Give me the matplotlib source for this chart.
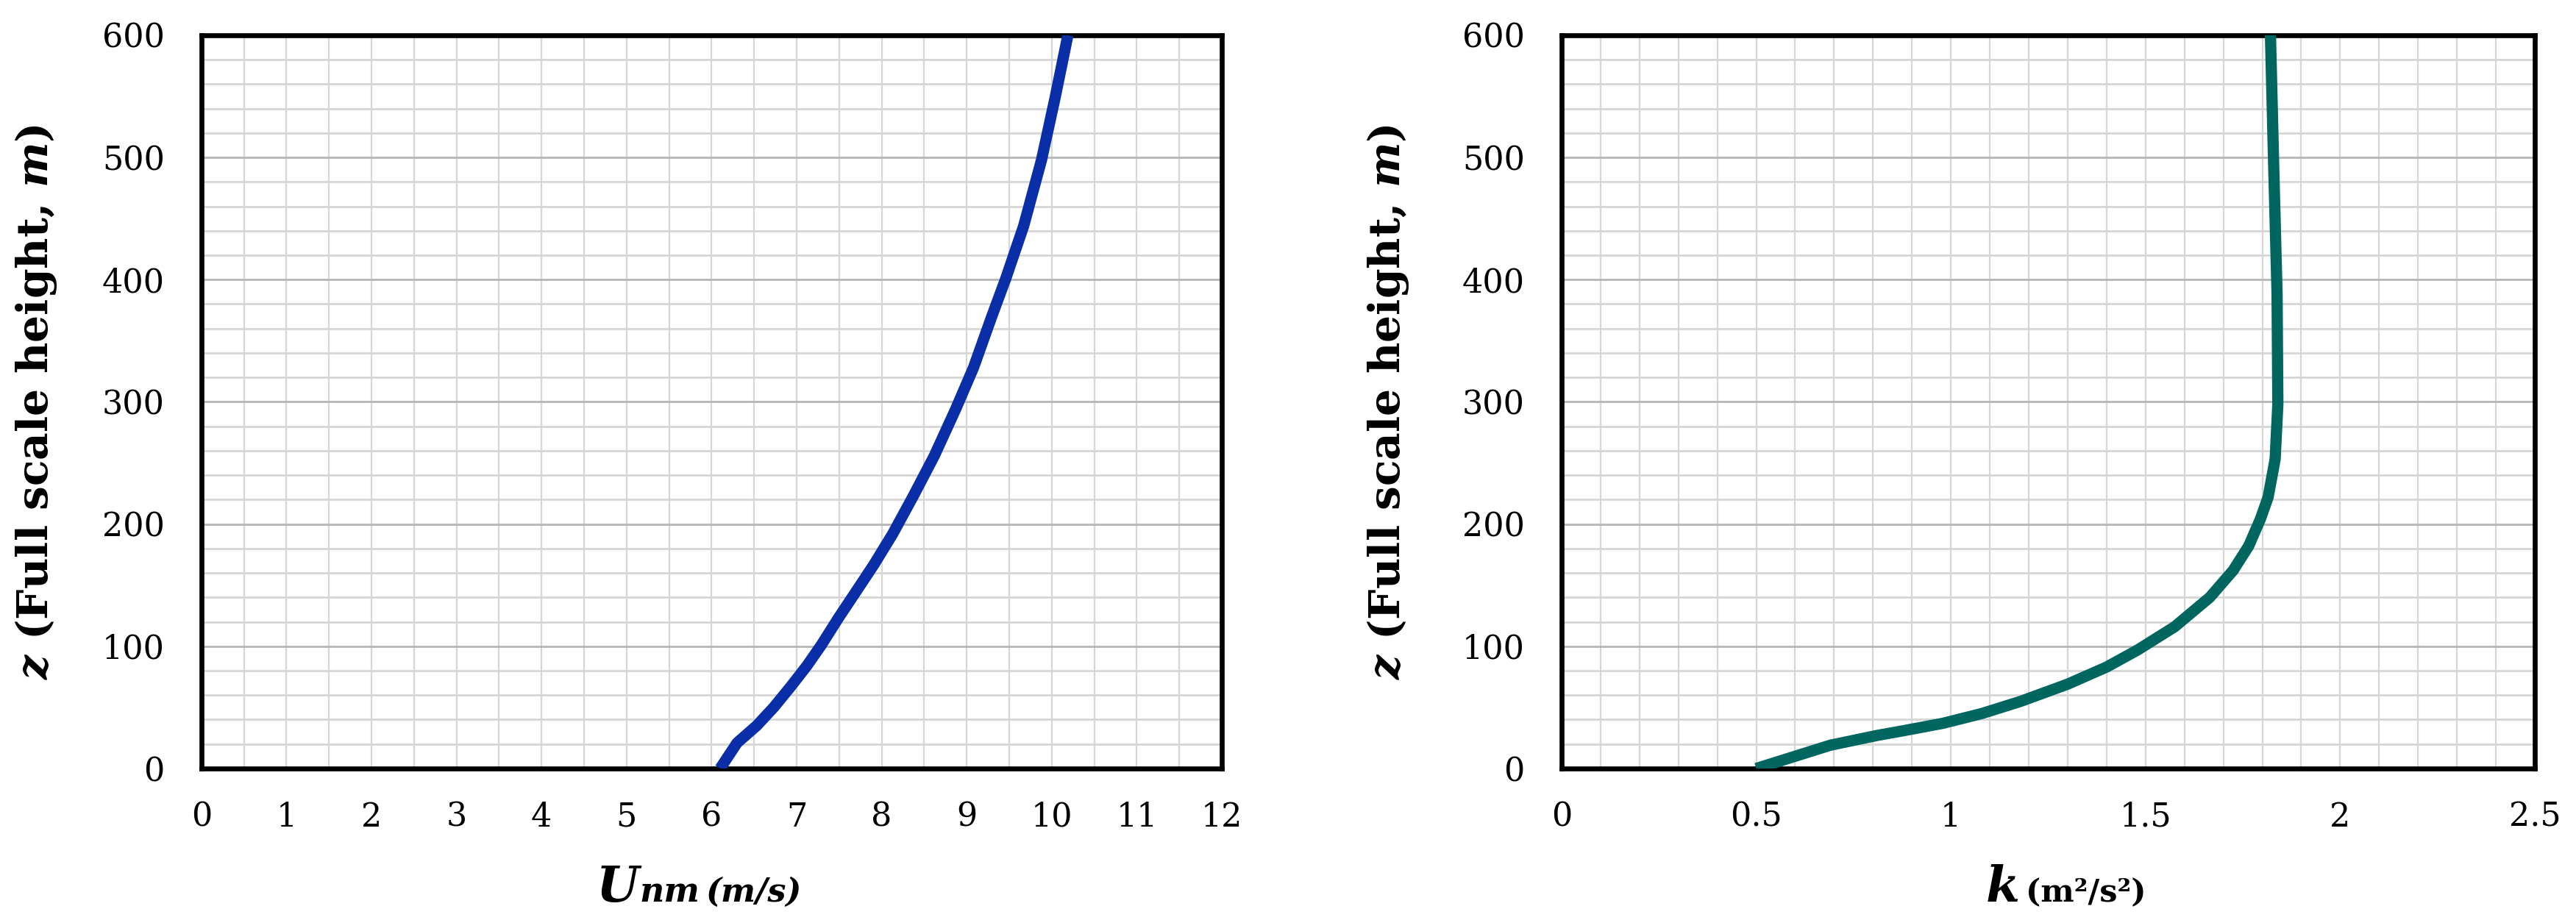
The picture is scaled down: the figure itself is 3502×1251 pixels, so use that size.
import matplotlib
matplotlib.use("Agg")
from matplotlib import pyplot as plt
from matplotlib.ticker import MultipleLocator

# mean wind speed profile (left panel)
z_u = [0, 21, 35, 50, 67, 84, 101, 123, 146, 167, 192, 224, 256, 294,
       328, 369, 401, 444, 498, 549, 600]
u_nm = [6.10, 6.30, 6.53, 6.73, 6.93, 7.12, 7.29, 7.49, 7.71, 7.91, 8.13,
        8.38, 8.62, 8.87, 9.08, 9.29, 9.46, 9.67, 9.88, 10.04, 10.19]

# turbulent kinetic energy profile (right panel)
z_k = [0, 9, 14, 19, 23, 27, 31, 37, 45, 55, 69, 83, 97, 116, 140, 162, 182,
       204, 222, 253, 298, 388, 497, 600]
k_vals = [0.50, 0.59, 0.64, 0.69, 0.75, 0.81, 0.88, 0.98, 1.08, 1.18, 1.30,
          1.40, 1.48, 1.575, 1.665, 1.725, 1.765, 1.795, 1.815, 1.833, 1.840,
          1.838, 1.829, 1.821]

u_ticks = list(range(0, 13))
k_ticks = [0, 0.5, 1, 1.5, 2, 2.5]
k_tick_labels = ["0", "0.5", "1", "1.5", "2", "2.5"]
z_ticks = list(range(0, 601, 100))

plt.rcParams['font.family'] = ['DejaVu Serif']
plt.rcParams['mathtext.fontset'] = 'custom'
plt.rcParams['mathtext.rm'] = 'DejaVu Serif:bold'
plt.rcParams['mathtext.bf'] = 'DejaVu Serif:bold'
plt.rcParams['mathtext.bfit'] = 'DejaVu Serif:italic:bold'

W, H = 3502, 1251
fig = plt.figure(figsize=(W / 100, H / 100), dpi=100)


def style_axes(ax, xmax, xminor):
    ax.set_xlim(0, xmax)
    ax.set_ylim(0, 600)
    ax.xaxis.set_minor_locator(MultipleLocator(xminor))
    ax.set_yticks(z_ticks)
    ax.yaxis.set_minor_locator(MultipleLocator(20))
    ax.grid(which='both', axis='x', color='#d6d6d6', lw=1.6)
    ax.grid(which='major', axis='y', color='#b5b5b5', lw=2.0)
    ax.grid(which='minor', axis='y', color='#d6d6d6', lw=2.0)
    ax.set_axisbelow(True)
    ax.tick_params(which='both', length=0, labelsize=32)
    ax.tick_params(axis='x', pad=32)
    ax.tick_params(axis='y', pad=36)
    for s in ax.spines.values():
        s.set_linewidth(4.8)
        s.set_color('black')
    ax.set_ylabel(r"$\mathbfit{z}$ (Full scale height, $\mathbfit{m}$)",
                  fontsize=42, fontweight='bold', va='center')


ax1 = fig.add_axes([0.0782, 0.1647, 0.3961, 0.797])
ax1.set_xticks(u_ticks)
style_axes(ax1, 12, 0.5)
ax1.yaxis.set_label_coords(-0.162, 0.5)
ax1.plot(u_nm, z_u, color='#0a2ea8', lw=11, solid_capstyle='butt',
         solid_joinstyle='round', zorder=3)

ax2 = fig.add_axes([0.6062, 0.1647, 0.3778, 0.797])
ax2.set_xticks(k_ticks, k_tick_labels)
style_axes(ax2, 2.5, 0.1)
ax2.yaxis.set_label_coords(-0.178, 0.5)
ax2.plot(k_vals, z_k, color='#00665f', lw=11, solid_capstyle='butt',
         solid_joinstyle='round', zorder=3)


# composite x labels built from pieces of different size
def label_parts(parts, center_px, baseline_px):
    renderer = fig.canvas.get_renderer()
    texts = []
    total = 0
    for s, size, style, gap in parts:
        t = fig.text(0, baseline_px / H, s, fontsize=size, fontweight='bold',
                     fontstyle=style, va='baseline', ha='left')
        w = t.get_window_extent(renderer).width
        texts.append((t, w, gap))
        total += w + gap
    x = center_px - total / 2
    for t, w, gap in texts:
        x += gap
        t.set_x(x / W)
        x += w


label_parts([("U", 48, 'italic', 0), ("nm", 33, 'italic', 0),
             ("(m/s)", 32, 'italic', 8)], 950, H - 1226)
label_parts([("k", 48, 'italic', 0), ("(m²/s²)", 31, 'normal', 8)],
            2809, H - 1226)

fig.savefig('out.png', dpi=100)
